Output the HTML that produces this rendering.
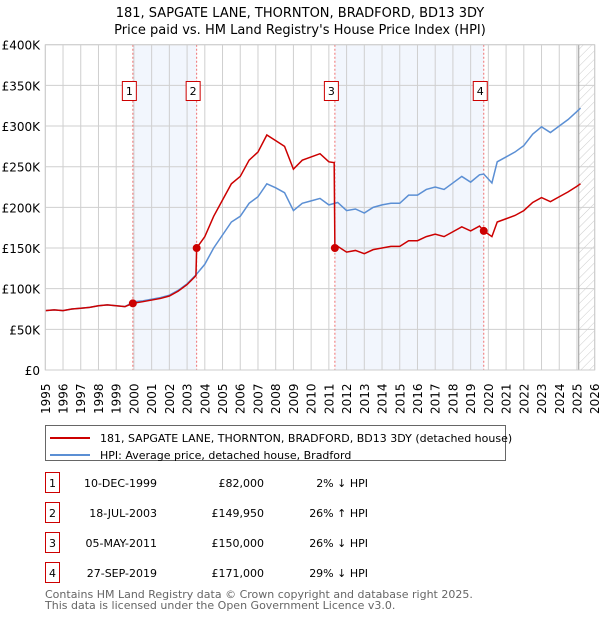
<!DOCTYPE html>
<html><head><meta charset="utf-8"><style>
body{margin:0;background:#fff;font-family:"DejaVu Sans","Liberation Sans",sans-serif;}
svg text{font-family:"DejaVu Sans","Liberation Sans",sans-serif;}
</style></head><body>
<svg id="chart" width="600" height="620" xmlns="http://www.w3.org/2000/svg">
<defs><pattern id="hatch" width="6" height="6" patternUnits="userSpaceOnUse" patternTransform="rotate(45)"><line x1="0" y1="0" x2="0" y2="6" stroke="#ccc" stroke-width="1"/></pattern></defs>
<text x="300" y="17" text-anchor="middle" font-size="13">181, SAPGATE LANE, THORNTON, BRADFORD, BD13 3DY</text>
<text x="300" y="34" text-anchor="middle" font-size="13">Price paid vs. HM Land Registry's House Price Index (HPI)</text>
<g id="plot"></g>
<g>
<rect x="45.5" y="425.5" width="460" height="35" fill="#fff" stroke="#666"/>
<line x1="50" y1="438" x2="90" y2="438" stroke="#cc0000" stroke-width="2"/>
<text x="100" y="442" font-size="11">181, SAPGATE LANE, THORNTON, BRADFORD, BD13 3DY (detached house)</text>
<line x1="50" y1="455" x2="90" y2="455" stroke="#5b8fd4" stroke-width="2"/>
<text x="100" y="459" font-size="11">HPI: Average price, detached house, Bradford</text>
</g>
<g id="table" font-size="11"></g>
<text x="45" y="598" font-size="11" fill="#666">Contains HM Land Registry data © Crown copyright and database right 2025.</text>
<text x="45" y="609" font-size="11" fill="#666">This data is licensed under the Open Government Licence v3.0.</text>
</svg>
<script>
const hpiYears=[1995,1995.5,1996,1996.5,1997,1997.5,1998,1998.5,1999,1999.5,2000,2000.5,2001,2001.5,2002,2002.5,2003,2003.5,2004,2004.5,2005,2005.5,2006,2006.5,2007,2007.5,2008,2008.5,2009,2009.5,2010,2010.5,2011,2011.5,2012,2012.5,2013,2013.5,2014,2014.5,2015,2015.5,2016,2016.5,2017,2017.5,2018,2018.5,2019,2019.5,2019.74,2020.2,2020.5,2021,2021.5,2022,2022.5,2023,2023.5,2024,2024.5,2025,2025.2];
const hpiValues=[73,74,73,75,76,77,79,80,79,78,84,85,87,89,92,98,106,117,130,150,166,182,189,205,213,229,224,218,196,205,208,211,203,206,196,198,193,200,203,205,205,215,215,222,225,222,230,238,231,240,241,230,256,262,268,276,290,299,292,300,308,318,322];
const priceYears=[1995,1995.5,1996,1996.5,1997,1997.5,1998,1998.5,1999,1999.5,1999.94,2000.5,2001,2001.5,2002,2002.5,2003,2003.5,2003.54,2004,2004.5,2005,2005.5,2006,2006.5,2007,2007.5,2008,2008.5,2009,2009.5,2010,2010.5,2011,2011.3,2011.34,2011.5,2012,2012.5,2013,2013.5,2014,2014.5,2015,2015.5,2016,2016.5,2017,2017.5,2018,2018.5,2019,2019.5,2019.74,2020.2,2020.5,2021,2021.5,2022,2022.5,2023,2023.5,2024,2024.5,2025,2025.2];
const priceValues=[73,74,73,75,76,77,79,80,79,78,82,84,86,88,91,97,105,116,150,164,189,209,229,238,258,268,289,282,275,247,258,262,266,256,255,150,152,145,147,143,148,150,152,152,159,159,164,167,164,170,176,171,177,171,164,182,186,190,196,206,212,207,213,219,226,229];
const saleYears=[1999.94,2003.54,2011.34,2019.74];
const saleValues=[82,149.95,150,171];
const saleLabels=["1","2","3","4"];
const saleDates=["10-DEC-1999","18-JUL-2003","05-MAY-2011","27-SEP-2019"];
const salePrices=["£82,000","£149,950","£150,000","£171,000"];
const saleHpi=["2% ↓ HPI","26% ↑ HPI","26% ↓ HPI","29% ↓ HPI"];
const yTicks=[0,50,100,150,200,250,300,350,400];
const yTickLabels=["£0","£50K","£100K","£150K","£200K","£250K","£300K","£350K","£400K"];
const xTicks=[1995,1996,1997,1998,1999,2000,2001,2002,2003,2004,2005,2006,2007,2008,2009,2010,2011,2012,2013,2014,2015,2016,2017,2018,2019,2020,2021,2022,2023,2024,2025,2026];

const NS="http://www.w3.org/2000/svg";
const X0=45.3,X1=594.7,Y0=370,Y1=44.7,XMIN=1995,XMAX=2026,YMAX=400;
const xs=v=>X0+(v-XMIN)/(XMAX-XMIN)*(X1-X0);
const ys=v=>Y0-v/YMAX*(Y0-Y1);
const g=document.getElementById('plot');
function mk(tag,attrs,parent){const e=document.createElementNS(NS,tag);for(const k in attrs)e.setAttribute(k,attrs[k]);(parent||g).appendChild(e);return e;}

for(let i=0;i<saleYears.length;i+=2){
  const r=mk('rect',{x:xs(saleYears[i]),y:Y1,width:xs(saleYears[i+1])-xs(saleYears[i]),height:Y0-Y1,fill:'#f2f6fd'});
  
  
}
const hat=mk('rect',{x:xs(2025.1),y:Y1,width:X1-xs(2025.1),height:Y0-Y1,fill:'url(#hatch)'});


xTicks.forEach(t=>{
  const l=mk('line',{x1:xs(t),x2:xs(t),y1:Y1,y2:Y0,stroke:'#cfcfcf'});
  
  
  const tx=mk('text',{x:0,y:0,'font-size':12,transform:`translate(${xs(t)+4.5},414) rotate(-90)`});
  tx.textContent=t;
  
  
});
yTicks.forEach((t,i)=>{
  const l=mk('line',{x1:X0,x2:X1,y1:ys(t),y2:ys(t),stroke:'#cfcfcf'});
  
  
  const tx=mk('text',{x:40,y:ys(t)+5,'font-size':12,'text-anchor':'end'});
  tx.textContent=yTickLabels[i];
  
  
});
const lastLine=mk('line',{x1:xs(2025.1),x2:xs(2025.1),y1:Y1,y2:Y0,stroke:'#999'});


saleYears.forEach((s,i)=>{
  const l=mk('line',{x1:xs(s),x2:xs(s),y1:Y1,y2:Y0,stroke:'#f07070','stroke-dasharray':'2,2'});
  
  
});
const hp=mk('polyline',{points:hpiYears.map((y,i)=>xs(y)+','+ys(hpiValues[i])).join(' '),fill:'none',stroke:'#5b8fd4','stroke-width':1.5});


const pp=mk('polyline',{points:priceYears.map((y,i)=>xs(y)+','+ys(priceValues[i])).join(' '),fill:'none',stroke:'#cc0000','stroke-width':1.5});


saleYears.forEach((s,i)=>{
  const c=mk('circle',{cx:xs(s),cy:ys(saleValues[i]),r:4,fill:'#cc0000'});
  
  
  const bx=mk('rect',{x:xs(s)-10.5,y:81.5,width:14,height:19,fill:'#fff',stroke:'#cc0000'});
  
  
  const t=mk('text',{x:xs(s)-3.5,y:95,'font-size':11,'text-anchor':'middle'});
  t.textContent=saleLabels[i];
  
  
});
const fr=mk('rect',{x:X0,y:Y1,width:X1-X0,height:Y0-Y1,fill:'none',stroke:'#ccc'});



const tb=document.getElementById('table');


saleLabels.forEach((lab,i)=>{
  const cy=483+i*30;
  const b=mk('rect',{x:45.5,y:cy-10.5,width:14,height:20,fill:'#fff',stroke:'#cc0000'},tb);
  
  
  const cells=[[52.5,lab,'middle'],[157,saleDates[i],'end'],[264,salePrices[i],'end'],[368,saleHpi[i],'end']];
  cells.forEach((c,j)=>{
    const t=mk('text',{x:c[0],y:cy+4,'text-anchor':c[2]},tb);
    t.textContent=c[1];
    
    
  });
});
</script>
</body></html>
